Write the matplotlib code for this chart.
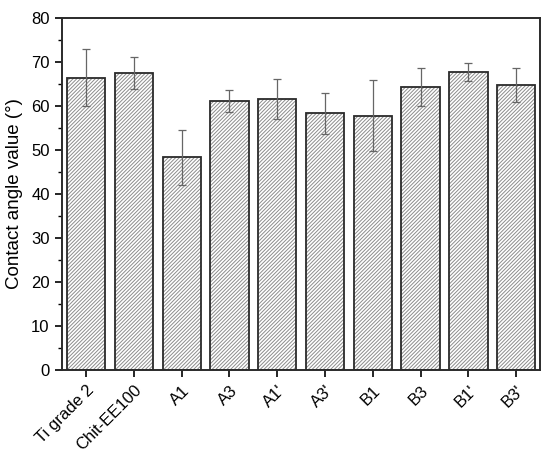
import numpy
import matplotlib
matplotlib.use('Agg')
import matplotlib.pyplot as plt
from matplotlib.ticker import MultipleLocator

plt.rcParams['font.family'] = ['Liberation Sans', 'DejaVu Sans']
plt.rcParams['hatch.linewidth'] = 0.7

samples = ['Ti grade 2', 'Chit-EE100', 'A1', 'A3', "A1'", "A3'", 'B1', 'B3', "B1'", "B3'"]
contact_angle = [66.4, 67.5, 48.3, 61.2, 61.6, 58.3, 57.8, 64.3, 67.7, 64.8]
contact_angle_err = [6.5, 3.6, 6.3, 2.5, 4.6, 4.7, 8.0, 4.4, 2.0, 3.9]

fig = plt.figure(figsize=(5.5, 4.57), dpi=100)
ax = fig.add_axes([0.113, 0.19, 0.869, 0.771])

x = numpy.arange(len(samples))
# hatch layer in grey, then the dark outline on top
ax.bar(x, contact_angle, width=0.8, color='white', edgecolor='#8c8c8c',
       hatch='/////////', linewidth=0)
ax.bar(x, contact_angle, width=0.8, color='none', edgecolor='#2a2a2a',
       linewidth=1.3)
ax.errorbar(x, contact_angle, yerr=contact_angle_err, fmt='none',
            ecolor='#666666', elinewidth=0.9, capsize=3, capthick=0.9)

ax.set_xlim(-0.5, len(samples) - 0.5)
ax.set_ylim(0, 80)
ax.yaxis.set_major_locator(MultipleLocator(10))
ax.yaxis.set_minor_locator(MultipleLocator(5))
ax.set_xticks(x)
ax.set_xticklabels(samples, rotation=45, ha='right', rotation_mode='anchor',
                   fontsize=12)
ax.tick_params(axis='y', labelsize=12)
ax.tick_params(which='major', direction='out', length=5, width=1.2, pad=4)
ax.tick_params(which='minor', direction='out', length=3, width=1.0)
ax.set_ylabel('Contact angle value (°)', fontsize=13.5, labelpad=6)
for s in ax.spines.values():
    s.set_linewidth(1.4)
    s.set_color('#2a2a2a')

fig.savefig('out.png', dpi=100)
